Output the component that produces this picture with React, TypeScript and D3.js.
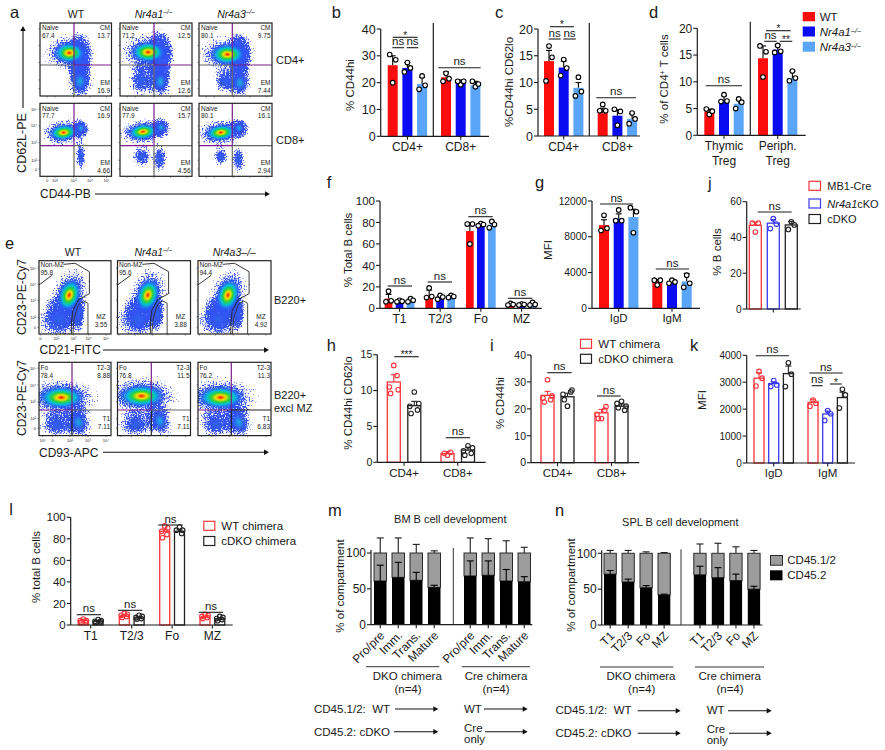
import React from "react";
import * as d3 from "d3";

const FONT = "'Liberation Sans', Arial, sans-serif";
const RED = "#fb0d0d", BLUE = "#0b0bf2", LIGHT = "#5aa5f7", DARK = "#1c1c1c";
const OUT_RED = "#f8353a", OUT_BLUE = "#3a3af5", OUT_BLACK = "#222222";

// ---------- bar chart data ----------
const cd48 = ["CD4+", "CD8+"];
const bTicks = [0, 10, 20, 30, 40];
const bMeans = [[26.5, 25.5, 19.5], [22, 20, 19]];
const bTops = [[30, 27.5, 22], [24, 21, 20.5]];
const bPoints = [
  [[20, 28.5, 30.5], [27.5, 25.5, 24], [22.5, 19, 17.5]],
  [[23.5, 21.5, 20.5], [19.2, 20.5, 20.5], [18.5, 19.5, 20.5]],
];
const cTicks = [0, 5, 10, 15, 20];
const cMeans = [[14, 12.8, 9], [4.25, 3.8, 3.2]];
const cTops = [[16, 14, 10], [5.2, 4.9, 4.2]];
const cPoints = [
  [[16.8, 14.7, 10.3], [14.3, 12.7, 11.3], [11, 8.3, 7.5]],
  [[5.9, 4.7, 4.7], [2, 4.6, 5], [4.3, 3.2, 2.3]],
];
const dCats = [["Thymic", "Treg"], ["Periph.", "Treg"]];
const dTicks = [0, 5, 10, 15, 20];
const dMeans = [[4.4, 6.6, 5.9], [14.4, 16, 10.7]];
const dTops = [[4.9, 7.4, 6.7], [16.7, 16.9, 12]];
const dPoints = [
  [[3.9, 4.5, 4.9], [7.6, 6.4, 6.3], [6.8, 6.2, 5]],
  [[10.9, 15.6, 16.7], [16.8, 15.7, 15.5], [12, 10.7, 10.2]],
];
const subsetCats = ["T1", "T2/3", "Fo", "MZ"];
const fTicks = [0, 20, 40, 60, 80, 100];
const fMeans = [[9, 6.5, 7], [12, 10, 11], [72, 78, 78], [4, 3.5, 4]];
const fTops = [[13, 7.5, 9], [17, 12, 12.5], [80, 79, 81], [4.8, 4, 5.5]];
const fPoints = [
  [[16, 7, 6], [7.5, 6.5, 6], [9, 7.5, 6]],
  [[19, 11, 10], [12, 10.5, 8.5], [12, 11, 10]],
  [[60, 78.5, 78.5], [79, 78, 77], [81, 78, 75]],
  [[4.5, 3.5, 3], [4, 3.5, 3], [5.5, 3.5, 3]],
];
const igCats = ["IgD", "IgM"];
const gTicks = [0, 4000, 8000, 12000];
const gMeans = [[9300, 10000, 10200], [3000, 3000, 3000]];
const gTops = [[9900, 10560, 11080], [3200, 3200, 3900]];
const gPoints = [
  [[10400, 8950, 8700], [11000, 9800, 9800], [8450, 10800, 11250]],
  [[2600, 3150, 3150], [3150, 2950, 2800], [3700, 2800, 2350]],
];
const jCats = [""];
const jTicks = [0, 20, 40, 60];
const jMeans = [[46.8, 48, 47]];
const jTops = [[48.6, 50, 49]];
const jPoints = [[[43, 48, 48], [50.5, 47.5, 45], [48.8, 47, 44.5]]];
const hTicks = [0, 5, 10, 15];
const hMeans = [[11.2, 7.9], [1.2, 1.7]];
const hTops = [[12.2, 8.5], [1.5, 2.1]];
const hPoints = [
  [[13.5, 10.1, 10.5, 12.1, 9.6], [9.8, 8.2, 7.8, 7.3, 6.8]],
  [[1, 1.4, 1.25], [2.3, 2, 1.6, 1.25, 1]],
];
const iTicks = [0, 10, 20, 30, 40];
const iMeans = [[25, 24.5], [18.5, 21]];
const iTops = [[26.5, 25.8], [19.8, 21.8]];
const iPoints = [
  [[30.8, 24.8, 24, 23.4, 22.5], [21, 27, 25.4, 26.3, 23.4]],
  [[16.4, 20.8, 18, 19.5, 16.4], [22.8, 21, 22, 19.5, 20.4]],
];
const kTicks = [0, 1000, 2000, 3000, 4000];
const kMeans = [[3150, 2950, 3320], [2250, 1820, 2430]];
const kTops = [[3350, 3020, 3600], [2370, 1930, 2630]];
const kPoints = [
  [[3400, 3150, 2860], [3060, 2900, 2840], [3720, 3300, 2840]],
  [[2340, 2220, 2110], [1950, 1830, 1580], [2740, 2530, 2040]],
];
const lTicks = [0, 20, 40, 60, 80, 100];
const lMeans = [[4, 3.5], [8, 6.5], [87, 87], [7, 5.5]];
const lTops = [[5, 4.2], [9, 7.5], [89, 88.5], [8, 6.5]];
const lPoints = [
  [[5.5, 4, 4, 3, 2.5], [5, 4, 3.5, 3, 2.5]],
  [[11, 10, 9, 8, 7], [9, 8, 7, 6, 5.5]],
  [[92, 90, 87, 84, 81], [91, 88, 88, 85]],
  [[10, 9, 8, 7, 6], [8, 7, 6, 5, 4]],
];

// ---------- stacked chart data ----------
const stackTicks = [0, 50, 100];
const mCats = ["Pro/pre", "Imm.", "Trans.", "Mature"];
const mBlack = [[61, 66, 62, 52], [68, 69, 61, 60]];
const mBlackTop = [[83, 87, 73, 55], [89, 89, 77, 67]];
const mTotalTop = [[121, 121, 112, 103], [121, 120, 117, 108]];
const nBlack = [[71, 60, 52, 42], [70, 66, 62, 50]];
const nBlackTop = [[76, 64, 55, 43], [82, 80, 71, 54]];
const nTotalTop = [[104, 104, 102, 101], [113, 114, 109, 104]];

// ---------- flow data (axis fractions; kind, cx, cy, rx, ry, angle) ----------
type Blob = [string, number, number, number, number, number];
const aRow1: Blob[][] = [
  [["cool", .56, .5, .1, .22, 0], ["hot", .41, .41, .24, .16, 0], ["mid", .56, .8, .12, .16, 0]],
  [["cool", .56, .45, .1, .25, 0], ["hot", .39, .4, .26, .16, 0], ["cool", .3, .78, .12, .14, 0], ["mid", .56, .8, .11, .15, 0]],
  [["cool", .56, .45, .09, .22, 0], ["hot", .39, .43, .26, .16, 0], ["cool", .35, .8, .1, .1, 0], ["mid", .56, .82, .11, .14, 0]],
];
const aRow2: Blob[][] = [
  [["hot", .33, .4, .22, .12, -6], ["mid", .57, .34, .07, .08, 0], ["cool", .57, .72, .05, .13, 0]],
  [["hot", .32, .39, .23, .12, -6], ["mid", .57, .33, .08, .08, 0], ["cool", .55, .76, .07, .12, 0], ["cool", .3, .73, .09, .09, 0]],
  [["hot", .3, .4, .23, .12, -6], ["mid", .55, .34, .08, .08, 0], ["cool", .54, .77, .06, .12, 0], ["cool", .3, .73, .07, .08, 0]],
];
const eRow1: Blob[][] = [
  [["cool", .28, .8, .2, .17, 0], ["cool", .55, .72, .06, .14, 0], ["hot", .42, .47, .17, .25, 18]],
  [["cool", .28, .8, .2, .17, 0], ["cool", .55, .72, .06, .14, 0], ["hot", .415, .47, .17, .25, 18]],
  [["cool", .28, .8, .2, .17, 0], ["cool", .55, .72, .06, .14, 0], ["hot", .41, .47, .17, .25, 18]],
];
const eRow2: Blob[][] = [
  [["cool", .25, .85, .16, .11, 0], ["mid", .55, .82, .12, .15, -18], ["hot", .31, .48, .34, .17, 0]],
  [["cool", .25, .85, .16, .11, 0], ["mid", .58, .8, .11, .15, -18], ["hot", .33, .46, .34, .17, 0]],
  [["cool", .25, .85, .16, .11, 0], ["mid", .56, .82, .12, .15, -18], ["hot", .31, .48, .34, .17, 0]],
];
const aLabels = [
  [["67.4", "13.7", "16.9"], ["71.2", "12.5", "12.6"], ["80.1", "9.75", "7.44"]],
  [["77.7", "16.9", "4.66"], ["77.9", "15.7", "4.56"], ["80.1", "16.1", "2.94"]],
];
const eTop = [["95.8", "3.55"], ["95.6", "3.88"], ["94.4", "4.92"]];
const eBottom = [["78.4", "8.88", "7.11"], ["76.8", "11.5", "7.11"], ["76.2", "11.3", "6.83"]];
const flowTickLabels = ["0", "10²", "10³", "10⁴", "10⁵"];
const gateUpper: [number, number][] = [[.34, .05], [.5, .035], [.7, .15], [.7, .45], [.55, .53], [.47, .68], [.45, .85], [.45, 1]];
const gateUpperLeft: [number, number][] = [[0, .33], [.18, .2]];
const gateLower: [number, number][] = [[.47, 1], [.49, .78], [.55, .6], [.62, .55], [.68, .58], [.68, 1]];

const T = (p: any) => <text fontFamily={FONT} fill="#1a1a1a" {...p} />;

function Sig({ x1, x2, y, label }: { x1: number; x2: number; y: number; label: string }) {
  const star = label.includes("*");
  return (
    <g>
      <line x1={x1} x2={x2} y1={y} y2={y} stroke={DARK} strokeWidth={1.1} />
      <T x={(x1 + x2) / 2} y={star ? y + 1.5 : y - 2.5} fontSize={star ? 10 : 11.5} textAnchor="middle">{label}</T>
    </g>
  );
}

function BarPanel(p: any) {
  const { left, right, y0, yTop, yMax, ticks, cats, means, tops, points, starts, step, barW, colors, outline,
    title, titleX, titleY, tickFont = 11, catFont = 11.5, jitter = 3, divider, catY } = p;
  const y = d3.scaleLinear().domain([0, yMax]).range([y0, yTop]);
  const jit = (n: number, i: number) => (n >= 4 ? [0, 1.4, -1.4, 1, -1][i] * jitter : [0, 1, -1][i] * jitter);
  return (
    <g>
      {means.map((gm: number[], g: number) => {
        const x = d3.scaleLinear().domain([0, 1]).range([starts[g], starts[g] + step]);
        const cx = (x(0) + x(gm.length - 1) + barW) / 2;
        const lines = Array.isArray(cats[g]) ? cats[g] : [cats[g]];
        return (
          <g key={g}>
            {gm.map((m, i) => {
              const col = colors[i];
              const mid = x(i) + barW / 2;
              return (
                <g key={i}>
                  <line x1={mid} x2={mid} y1={y(m)} y2={y(tops[g][i])} stroke={outline ? col : "#000"} strokeWidth={1.1} />
                  <line x1={mid - 3} x2={mid + 3} y1={y(tops[g][i])} y2={y(tops[g][i])} stroke={outline ? col : "#000"} strokeWidth={1.1} />
                  {outline ? (
                    <rect x={x(i)} y={y(m)} width={barW} height={y0 - y(m)} fill="none" stroke={col} strokeWidth={1.3} />
                  ) : (
                    <rect x={x(i)} y={y(m)} width={barW} height={y0 - y(m)} fill={col} />
                  )}
                  {points[g][i].map((v: number, k: number) => (
                    <circle key={k} cx={mid + jit(points[g][i].length, k)} cy={y(v)} r={2.3}
                      fill={outline ? "none" : "#fff"} stroke={outline ? col : "#000"} strokeWidth={1.1} />
                  ))}
                </g>
              );
            })}
            <line x1={cx} x2={cx} y1={y0} y2={y0 + 3.5} stroke={DARK} strokeWidth={1.1} />
            {lines.map((t: string, k: number) => t && (
              <T key={k} x={cx} y={catY + k * 15} fontSize={catFont} textAnchor="middle">{t}</T>
            ))}
          </g>
        );
      })}
      {divider && <line x1={divider[0]} x2={divider[0]} y1={divider[1]} y2={y0} stroke={DARK} strokeWidth={1.2} />}
      <line x1={left} x2={right} y1={y0} y2={y0} stroke={DARK} strokeWidth={1.2} />
      <line x1={left} x2={left} y1={yTop} y2={y0} stroke={DARK} strokeWidth={1.2} />
      {ticks.map((t: number) => (
        <g key={t}>
          <line x1={left - 4} x2={left} y1={y(t)} y2={y(t)} stroke={DARK} strokeWidth={1.1} />
          <T x={left - 5} y={y(t)} dy=".36em" fontSize={tickFont} textAnchor="end">{t}</T>
        </g>
      ))}
      <T transform={`translate(${titleX},${titleY}) rotate(-90)`} fontSize={11.5} textAnchor="middle">{title}</T>
    </g>
  );
}

function StackPanel(p: any) {
  const { left, right, y0, yTop, cats, black, blackTop, totalTop, starts, step, barW, divider, titleX, titleY } = p;
  const y = d3.scaleLinear().domain([0, 100]).range([y0, yTop]);
  return (
    <g>
      {black.map((gv: number[], g: number) => {
        const x = d3.scaleLinear().domain([0, 1]).range([starts[g], starts[g] + step]);
        return gv.map((v, i) => {
          const mid = x(i) + barW / 2;
          return (
            <g key={`${g}-${i}`}>
              <line x1={mid} x2={mid} y1={y(100)} y2={y(totalTop[g][i])} stroke={DARK} strokeWidth={1.1} />
              <line x1={mid - 3.5} x2={mid + 3.5} y1={y(totalTop[g][i])} y2={y(totalTop[g][i])} stroke={DARK} strokeWidth={1.1} />
              <rect x={x(i)} y={y(100)} width={barW} height={y(v) - y(100)} fill="#9c9c9c" stroke="#2a2a2a" strokeWidth={1} />
              <line x1={mid} x2={mid} y1={y(v)} y2={y(blackTop[g][i])} stroke="#000" strokeWidth={1.1} />
              <line x1={mid - 3.5} x2={mid + 3.5} y1={y(blackTop[g][i])} y2={y(blackTop[g][i])} stroke="#000" strokeWidth={1.1} />
              <rect x={x(i)} y={y(v)} width={barW} height={y0 - y(v)} fill="#000" />
              <line x1={mid} x2={mid} y1={y0} y2={y0 + 3.5} stroke={DARK} strokeWidth={1.1} />
              <T transform={`translate(${mid + 2},${y0 + 8.5}) rotate(-45)`} fontSize={12} textAnchor="end" dy=".35em">{cats[i]}</T>
            </g>
          );
        });
      })}
      <line x1={divider[0]} x2={divider[0]} y1={divider[1]} y2={y0} stroke="#333" strokeWidth={1} />
      <line x1={left} x2={right} y1={y0} y2={y0} stroke={DARK} strokeWidth={1.2} />
      <line x1={left} x2={left} y1={y(100) - 3} y2={y0} stroke={DARK} strokeWidth={1.2} />
      {stackTicks.map((t) => (
        <g key={t}>
          <line x1={left - 4} x2={left} y1={y(t)} y2={y(t)} stroke={DARK} strokeWidth={1.1} />
          <T x={left - 5} y={y(t)} dy=".36em" fontSize={12} textAnchor="end">{t}</T>
        </g>
      ))}
      <T transform={`translate(${titleX},${titleY}) rotate(-90)`} fontSize={11.5} textAnchor="middle">% of compartment</T>
    </g>
  );
}

function Arrow({ x1, x2, y }: { x1: number; x2: number; y: number }) {
  return (
    <g>
      <line x1={x1} x2={x2 - 3} y1={y} y2={y} stroke="#111" strokeWidth={1.1} />
      <path d={`M${x2},${y} L${x2 - 5},${y - 2.7} L${x2 - 5},${y + 2.7} Z`} fill="#111" />
    </g>
  );
}

function VArrow({ x, y1, y2 }: { x: number; y1: number; y2: number }) {
  return (
    <g>
      <line x1={x} x2={x} y1={y1} y2={y2 + 3} stroke="#111" strokeWidth={1.1} />
      <path d={`M${x},${y2} L${x - 2.7},${y2 + 5} L${x + 2.7},${y2 + 5} Z`} fill="#111" />
    </g>
  );
}

function Flow(p: any) {
  const { id, x, y, w, h, blobs, children, xLabels, yLabels, xTickFracs, yTickFracs } = p;
  const sx = d3.scaleLinear().domain([0, 1]).range([x, x + w]);
  const sy = d3.scaleLinear().domain([0, 1]).range([y, y + h]);
  return (
    <g>
      <clipPath id={id}><rect x={x} y={y} width={w} height={h} /></clipPath>
      <g clipPath={`url(#${id})`}>
        <g filter="url(#soft)">
          <g filter="url(#speckle)">
            {blobs.map((b: Blob, i: number) => (
              <ellipse key={i} cx={0} cy={0} rx={(sx(b[3]) - sx(0)) * 1.75} ry={(sy(b[4]) - sy(0)) * 1.85} fill="url(#halo)"
                transform={`translate(${sx(b[1])},${sy(b[2])}) rotate(${b[5]})`} />
            ))}
          </g>
          {blobs.map((b: Blob, i: number) => (
            <ellipse key={i} cx={0} cy={0} rx={sx(b[3]) - sx(0)} ry={sy(b[4]) - sy(0)} fill={`url(#${b[0]})`}
              transform={`translate(${sx(b[1])},${sy(b[2])}) rotate(${b[5]})`} />
          ))}
        </g>
        {children && children(sx, sy)}
      </g>
      <rect x={x} y={y} width={w} height={h} fill="none" stroke="#222" strokeWidth={1.2} />
      {(xTickFracs || [.12, .3, .5, .72, .94]).map((f: number, i: number) => (
        <g key={i}>
          <line x1={sx(f)} x2={sx(f)} y1={y + h} y2={y + h + 1.5} stroke="#444" strokeWidth={.7} />
          {xLabels && <T x={sx(f)} y={y + h + 6} fontSize={4} textAnchor="middle">{flowTickLabels[i]}</T>}
        </g>
      ))}
      {(yTickFracs || [.08, .31, .54, .78, .92]).map((f: number, i: number) => (
        <g key={i}>
          <line x1={x - 1.5} x2={x} y1={sy(f)} y2={sy(f)} stroke="#444" strokeWidth={.7} />
          {yLabels && <T x={x - 3} y={sy(f) + 1.5} fontSize={4} textAnchor="end">{flowTickLabels[4 - i]}</T>}
        </g>
      ))}
    </g>
  );
}

const Small = (p: any) => <T fontSize={6.5} {...p} />;
const PURPLE = "#7a1f88", GREY = "#666";

const aCols = [[40, 71.5], [120, 72], [199, 73]];
const eCols = [[39, 72], [117.5, 73], [198, 73]];

function Sup({ base, italic = true }: { base: string; italic?: boolean }) {
  return (
    <>
      <tspan fontStyle={italic ? "italic" : "normal"}>{base}</tspan>
      <tspan fontStyle="italic" dy={-3.5} fontSize="0.62em">–/–</tspan>
    </>
  );
}

function Panels() {
  return (
    <g>
      {/* ---- panel a ---- */}
      {[0, 1].map((r) => aCols.map(([x, w], c) => {
        const y = r === 0 ? 23 : 103.3;
        const h = 73;
        const labs = aLabels[r][c];
        const vx = [74, 154, 232.3][c];
        const hy = r === 0 ? 65 : 145.7;
        return (
          <Flow key={`a${r}${c}`} id={`a${r}${c}`} x={x} y={y} w={w} h={h} blobs={(r === 0 ? aRow1 : aRow2)[c]}
            xLabels={r === 1 && c === 0} yLabels={r === 1 && c === 0} xTickFracs={[.1, .21, .47, .7, .93]} yTickFracs={[.08, .31, .54, .78, .9]}>
            {() => (
              <g>
                <line x1={vx} x2={vx} y1={y} y2={hy} stroke={PURPLE} strokeWidth={1.2} />
                <line x1={vx} x2={vx} y1={hy} y2={y + h} stroke={GREY} strokeWidth={1.2} />
                <line x1={x} x2={vx} y1={hy} y2={hy} stroke={r === 0 ? GREY : PURPLE} strokeWidth={1.2} />
                <line x1={vx} x2={x + w} y1={hy} y2={hy} stroke={r === 0 ? PURPLE : GREY} strokeWidth={1.2} />
                <Small x={x + 2} y={y + 7.3}>Naive</Small>
                <Small x={x + 2} y={y + 14.7}>{labs[0]}</Small>
                <Small x={x + w - 1.5} y={y + 7.3} textAnchor="end">CM</Small>
                <Small x={x + w - 1.5} y={y + 14.7} textAnchor="end">{labs[1]}</Small>
                <Small x={x + w - 1.5} y={y + 62} textAnchor="end">EM</Small>
                <Small x={x + w - 1.5} y={y + 69.7} textAnchor="end">{labs[2]}</Small>
              </g>
            )}
          </Flow>
        );
      }))}
      <T x={76} y={17.5} fontSize={10.5} textAnchor="middle">WT</T>
      <T x={153.5} y={17.5} fontSize={10.5} textAnchor="middle"><Sup base="Nr4a1" /></T>
      <T x={236} y={17.5} fontSize={10.5} textAnchor="middle"><Sup base="Nr4a3" /></T>
      <T x={276} y={64} fontSize={11}>CD4+</T>
      <T x={276} y={144} fontSize={11}>CD8+</T>
      <T transform="translate(25.5,143) rotate(-90)" fontSize={12.5} textAnchor="middle">CD62L-PE</T>
      <VArrow x={23} y1={108} y2={26} />
      <T x={40} y={198} fontSize={12}>CD44-PB</T>
      <Arrow x1={95} x2={270} y={194} />

      {/* ---- panel e ---- */}
      {eCols.map(([x, w], c) => {
        const y = 260.7, h = 73.3;
        return (
          <Flow key={`e0${c}`} id={`e0${c}`} x={x} y={y} w={w} h={h} blobs={eRow1[c]} xLabels={c === 0} yLabels={c === 0}
            xTickFracs={[.02, .24, .48, .69, .93]} yTickFracs={[.1, .32, .54, .77, .91]}>
            {(sx: any, sy: any) => {
              const ln = d3.line().x((d: any) => sx(d[0])).y((d: any) => sy(d[1]));
              return (
                <g>
                  <path d={ln(gateUpperLeft)!} fill="none" stroke="#222" strokeWidth={.9} />
                  <path d={ln(gateUpper)!} fill="none" stroke="#222" strokeWidth={.9} />
                  <path d={ln(gateLower)!} fill="none" stroke="#333" strokeWidth={.9} />
                  <Small x={x + 1.5} y={267.3}>Non-MZ</Small>
                  <Small x={x + 1.5} y={275}>{eTop[c][0]}</Small>
                  <Small x={x + w - 10} y={319.3} textAnchor="middle">MZ</Small>
                  <Small x={x + w - 10} y={326.7} textAnchor="middle">{eTop[c][1]}</Small>
                </g>
              );
            }}
          </Flow>
        );
      })}
      {eCols.map(([x, w], c) => {
        const y = 362.3, h = 73.3;
        const vx = [72, 151.3, 231.3][c], hy = 410;
        return (
          <Flow key={`e1${c}`} id={`e1${c}`} x={x} y={y} w={w} h={h} blobs={eRow2[c]} xLabels={c === 0} yLabels={c === 0}
            xTickFracs={[.19, .43, .68, .93, .05]} yTickFracs={[.08, .31, .54, .77, .9]}>
            {() => (
              <g>
                <line x1={vx} x2={vx} y1={y} y2={hy} stroke={PURPLE} strokeWidth={1.2} />
                <line x1={vx} x2={vx} y1={hy} y2={y + h} stroke="#222" strokeWidth={1.2} />
                <line x1={x} x2={vx} y1={hy} y2={hy} stroke={PURPLE} strokeWidth={1.2} />
                <line x1={vx} x2={x + w} y1={hy} y2={hy} stroke={c === 2 ? "#222" : GREY} strokeWidth={1.2} />
                <Small x={x + 1.5} y={370.3}>Fo</Small>
                <Small x={x + 1.5} y={377.7}>{eBottom[c][0]}</Small>
                <Small x={x + w - 1} y={370.3} textAnchor="end">T2-3</Small>
                <Small x={x + w - 1} y={377.7} textAnchor="end">{eBottom[c][1]}</Small>
                <Small x={x + w - 1} y={421.3} textAnchor="end">T1</Small>
                <Small x={x + w - 1} y={429.3} textAnchor="end">{eBottom[c][2]}</Small>
              </g>
            )}
          </Flow>
        );
      })}
      <T x={73} y={255.7} fontSize={10.5} textAnchor="middle">WT</T>
      <T x={153.3} y={255.7} fontSize={10.5} textAnchor="middle"><Sup base="Nr4a1" /></T>
      <T x={234.3} y={255.7} fontSize={10.5} textAnchor="middle" fontStyle="italic">Nr4a3–/–</T>
      <T x={274} y={304} fontSize={11}>B220+</T>
      <T x={274} y={398.5} fontSize={11}>B220+</T>
      <T x={274} y={412} fontSize={11}>excl MZ</T>
      <T transform="translate(25.5,297) rotate(-90)" fontSize={12} textAnchor="middle">CD23-PE-Cy7</T>
      <T transform="translate(25.5,398) rotate(-90)" fontSize={12} textAnchor="middle">CD23-PE-Cy7</T>
      <T x={39.5} y={354} fontSize={12}>CD21-FITC</T>
      <Arrow x1={103} x2={269} y={350} />
      <T x={39} y={456.5} fontSize={12}>CD93-APC</T>
      <Arrow x1={103} x2={269} y={452.3} />

      {/* ---- panel b ---- */}
      <BarPanel left={380.7} right={489} y0={136.3} yTop={29} yMax={40} ticks={bTicks} cats={cd48} means={bMeans} tops={bTops} points={bPoints}
        starts={[387.7, 441]} step={14.7} barW={10} colors={[RED, BLUE, LIGHT]} title="% CD44hi" titleX={354} titleY={85} tickFont={12.5} catFont={12} catY={150.5} divider={[433.3, 23]} />
      <Sig x1={392.7} x2={417.7} y={37.3} label="*" />
      <Sig x1={392.3} x2={404} y={47.7} label="ns" />
      <Sig x1={406.7} x2={418.3} y={47.7} label="ns" />
      <Sig x1={438.3} x2={480.7} y={67.7} label="ns" />

      {/* ---- panel c ---- */}
      <BarPanel left={538} right={640} y0={136} yTop={29} yMax={20} ticks={cTicks} cats={cd48} means={cMeans} tops={cTops} points={cPoints}
        starts={[544, 597.7]} step={14.7} barW={10} colors={[RED, BLUE, LIGHT]} title="%CD44hi  CD62lo" titleX={513} titleY={82} tickFont={12.5} catFont={12} catY={150.5} divider={[589.3, 23]} />
      <Sig x1={550} x2={574} y={26.7} label="*" />
      <Sig x1={548.7} x2={560.7} y={39} label="ns" />
      <Sig x1={563.3} x2={575.7} y={39} label="ns" />
      <Sig x1={596.3} x2={636} y={97.7} label="ns" />

      {/* ---- panel d ---- */}
      <BarPanel left={697.3} right={805.7} y0={135.3} yTop={28.3} yMax={20} ticks={dTicks} cats={dCats} means={dMeans} tops={dTops} points={dPoints}
        starts={[704.3, 758]} step={14.7} barW={10} colors={[RED, BLUE, LIGHT]} title="" titleX={668} titleY={79} tickFont={12} catFont={12} catY={150} divider={[750.3, 21.7]} />
      <T transform="translate(668,79) rotate(-90)" fontSize={11.5} textAnchor="middle">% of CD4<tspan dy={-3.5} fontSize={7}>+</tspan><tspan dy={3.5}> T cells</tspan></T>
      <Sig x1={705.7} x2={742} y={85.7} label="ns" />
      <Sig x1={766} x2={790.7} y={30.7} label="*" />
      <Sig x1={764.3} x2={776.7} y={41.3} label="ns" />
      <Sig x1={779.7} x2={792.3} y={41.3} label="**" />

      {/* legend 1 */}
      <rect x={802.7} y={12} width={12.3} height={9.3} fill={RED} />
      <rect x={802.7} y={26.5} width={12.3} height={10} fill={BLUE} />
      <rect x={802.7} y={41.7} width={12.3} height={10} fill={LIGHT} />
      <T x={819.7} y={20.5} fontSize={11.5}>WT</T>
      <T x={819.7} y={36} fontSize={11.5}><Sup base="Nr4a1" /></T>
      <T x={819.7} y={51} fontSize={11.5}><Sup base="Nr4a3" /></T>

      {/* ---- panel f ---- */}
      <BarPanel left={380} right={541.7} y0={308.3} yTop={201} yMax={100} ticks={fTicks} cats={subsetCats} means={fMeans} tops={fTops} points={fPoints}
        starts={[384.7, 425.3, 466, 506.7]} step={11} barW={7.7} colors={[RED, BLUE, LIGHT]} title="% Total B cells" titleX={352} titleY={250} tickFont={11.5} catFont={12} catY={323} jitter={2.6} />
      <Sig x1={387.7} x2={412} y={286} label="ns" />
      <Sig x1={427.7} x2={452} y={282} label="ns" />
      <Sig x1={468.3} x2={492.7} y={216.7} label="ns" />
      <Sig x1={508} x2={532.3} y={298.3} label="ns" />

      {/* ---- panel g ---- */}
      <BarPanel left={592} right={700} y0={308.3} yTop={201} yMax={12000} ticks={gTicks} cats={igCats} means={gMeans} tops={gTops} points={gPoints}
        starts={[599, 652.3]} step={14.7} barW={10} colors={[RED, BLUE, LIGHT]} title="MFI" titleX={552} titleY={250} tickFont={10.2} catFont={11.5} catY={321.5} />
      <Sig x1={600} x2={633} y={204} label="ns" />
      <Sig x1={655.7} x2={689} y={269} label="ns" />

      {/* ---- panel j ---- */}
      <BarPanel left={746.7} right={800.7} y0={309} yTop={201.7} yMax={60} ticks={jTicks} cats={jCats} means={jMeans} tops={jTops} points={jPoints}
        starts={[749.3]} step={18} barW={12} colors={[OUT_RED, OUT_BLUE, OUT_BLACK]} outline title="% B cells" titleX={720.5} titleY={252} tickFont={10.2} catY={323} />
      <Sig x1={757.7} x2={791.7} y={212} label="ns" />

      {/* legend 2 */}
      {[OUT_RED, OUT_BLUE, OUT_BLACK].map((c, i) => (
        <rect key={c} x={809} y={[181.3, 199, 214.5][i]} width={11.5} height={9} fill="none" stroke={c} strokeWidth={1.2} />
      ))}
      <T x={827.3} y={189.5} fontSize={11}>MB1-Cre</T>
      <T x={827.3} y={207.5} fontSize={11}><tspan fontStyle="italic">Nr4a1</tspan>cKO</T>
      <T x={827.3} y={223.3} fontSize={11}>cDKO</T>

      {/* ---- panel h ---- */}
      <BarPanel left={377.3} right={485.7} y0={462.3} yTop={354.7} yMax={15} ticks={hTicks} cats={cd48} means={hMeans} tops={hTops} points={hPoints}
        starts={[387.3, 441]} step={20.5} barW={13} colors={[OUT_RED, OUT_BLACK]} outline title="% CD44hi CD62lo" titleX={352} titleY={403} tickFont={10.5} catY={476.5} jitter={3.2} />
      <Sig x1={394.3} x2={418.7} y={356.7} label="***" />
      <Sig x1={445.7} x2={470} y={437.7} label="ns" />

      {/* ---- panel i ---- */}
      <BarPanel left={531} right={639.3} y0={462.7} yTop={355} yMax={40} ticks={iTicks} cats={cd48} means={iMeans} tops={iTops} points={iPoints}
        starts={[541, 595]} step={20} barW={13} colors={[OUT_RED, OUT_BLACK]} outline title="% CD44hi" titleX={504} titleY={403} tickFont={10.5} catY={476.5} jitter={3.2} />
      <Sig x1={547.3} x2={571.7} y={372.7} label="ns" />
      <Sig x1={597} x2={620.7} y={396} label="ns" />
      <rect x={580.5} y={339.3} width={11} height={9} fill="none" stroke={OUT_RED} strokeWidth={1.2} />
      <rect x={580.5} y={354.3} width={11} height={9} fill="none" stroke={OUT_BLACK} strokeWidth={1.2} />
      <T x={598.3} y={348} fontSize={11.5}>WT chimera</T>
      <T x={598.3} y={363.3} fontSize={11.5}>cDKO chimera</T>

      {/* ---- panel k ---- */}
      <BarPanel left={746.7} right={855} y0={463} yTop={355.3} yMax={4000} ticks={kTicks} cats={igCats} means={kMeans} tops={kTops} points={kPoints}
        starts={[754, 808]} step={14.7} barW={10} colors={[OUT_RED, OUT_BLUE, OUT_BLACK]} outline title="MFI" titleX={706} titleY={400} tickFont={10} catY={476.5} />
      <Sig x1={755.7} x2={789} y={355.7} label="ns" />
      <Sig x1={809.3} x2={842.7} y={373} label="ns" />
      <Sig x1={811.7} x2={822.7} y={385.7} label="ns" />
      <Sig x1={830} x2={841.7} y={384} label="*" />

      {/* ---- panel l ---- */}
      <BarPanel left={70.7} right={232.7} y0={625} yTop={517.3} yMax={100} ticks={lTicks} cats={subsetCats} means={lMeans} tops={lTops} points={lPoints}
        starts={[78.3, 119.3, 159.7, 200]} step={14.8} barW={10} colors={[OUT_RED, OUT_BLACK]} outline title="% total B cells" titleX={40} titleY={567} tickFont={11.5} catFont={12} catY={639.5} jitter={2.2} />
      <Sig x1={76.7} x2={101} y={614.7} label="ns" />
      <Sig x1={118} x2={142.3} y={610.3} label="ns" />
      <Sig x1={158.3} x2={182.7} y={525} label="ns" />
      <Sig x1={199} x2={223} y={612.3} label="ns" />
      <rect x={203.8} y={521.3} width={11} height={9} fill="none" stroke={OUT_RED} strokeWidth={1.2} />
      <rect x={203.8} y={536.5} width={11} height={9} fill="none" stroke={OUT_BLACK} strokeWidth={1.2} />
      <T x={221.3} y={529.5} fontSize={11.5}>WT chimera</T>
      <T x={221.3} y={544.5} fontSize={11.5}>cDKO chimera</T>

      {/* ---- panel m ---- */}
      <StackPanel left={371} right={532.3} y0={624.7} yTop={553} cats={mCats} black={mBlack} blackTop={mBlackTop} totalTop={mTotalTop}
        starts={[374, 464]} step={18} barW={12.5} divider={[453.3, 548]} titleX={344} titleY={586} />
      <T x={450.3} y={522.7} fontSize={11} textAnchor="middle">BM B cell development</T>
      <line x1={366} x2={439.3} y1={666.7} y2={666.7} stroke="#333" strokeWidth={1} />
      <line x1={461.7} x2={530} y1={666.7} y2={666.7} stroke="#333" strokeWidth={1} />
      <T x={407.3} y={679.5} fontSize={11.5} textAnchor="middle">DKO chimera</T>
      <T x={408} y={692.5} fontSize={11.5} textAnchor="middle">(n=4)</T>
      <T x={496} y={679.5} fontSize={11.5} textAnchor="middle">Cre chimera</T>
      <T x={496} y={692.5} fontSize={11.5} textAnchor="middle">(n=4)</T>
      <T x={314} y={713} fontSize={11.5} xmlSpace="preserve">CD45.1/2:  WT</T>
      <T x={314} y={736} fontSize={11.5}>CD45.2: cDKO</T>
      <Arrow x1={395} x2={438.3} y={709} />
      <Arrow x1={394} x2={438.3} y={731.7} />
      <T x={464} y={713} fontSize={11.5}>WT</T>
      <Arrow x1={484} x2={527.7} y={709} />
      <T x={464} y={731.8} fontSize={11.5}>Cre</T>
      <T x={464} y={742.5} fontSize={11.5}>only</T>
      <Arrow x1={485} x2={527.7} y={731.7} />

      {/* ---- panel n ---- */}
      <StackPanel left={601.7} right={762.3} y0={625} yTop={553.3} cats={subsetCats} black={nBlack} blackTop={nBlackTop} totalTop={nTotalTop}
        starts={[604, 693.8]} step={18} barW={12.3} divider={[681, 549.3]} titleX={574.5} titleY={585} />
      <T x={680.3} y={525.7} fontSize={11} textAnchor="middle">SPL B cell development</T>
      <line x1={600} x2={673.3} y1={667} y2={667} stroke="#333" strokeWidth={1} />
      <line x1={695} x2={764} y1={667} y2={667} stroke="#333" strokeWidth={1} />
      <T x={641} y={680} fontSize={11.5} textAnchor="middle">DKO chimera</T>
      <T x={641.7} y={693} fontSize={11.5} textAnchor="middle">(n=4)</T>
      <T x={729.7} y={680} fontSize={11.5} textAnchor="middle">Cre chimera</T>
      <T x={730} y={693} fontSize={11.5} textAnchor="middle">(n=4)</T>
      <T x={555.5} y={714} fontSize={11.5} xmlSpace="preserve">CD45.1/2:  WT</T>
      <T x={555.5} y={736.7} fontSize={11.5}>CD45.2: cDKO</T>
      <Arrow x1={637.7} x2={680.7} y={710.7} />
      <Arrow x1={637.7} x2={680.7} y={733.3} />
      <T x={706.7} y={714} fontSize={11.5}>WT</T>
      <Arrow x1={728} x2={771.7} y={710.7} />
      <T x={706.7} y={732.6} fontSize={11.5}>Cre</T>
      <T x={706.7} y={743.6} fontSize={11.5}>only</T>
      <Arrow x1={729} x2={771.7} y={733.3} />
      <rect x={770.5} y={555.5} width={12} height={9.7} fill="#9c9c9c" stroke="#2a2a2a" strokeWidth={1} />
      <rect x={770} y={570.3} width={12.5} height={10} fill="#000" />
      <T x={787.3} y={564.3} fontSize={11.5}>CD45.1/2</T>
      <T x={787.3} y={579.3} fontSize={11.5}>CD45.2</T>

      {/* ---- panel letters ---- */}
      {([["a", 10, 18], ["b", 331.7, 18], ["c", 495, 18], ["d", 649, 18], ["e", 5, 249], ["f", 326.7, 188], ["g", 535, 188],
        ["j", 708, 189], ["h", 326.7, 351], ["i", 490, 351], ["k", 690, 351], ["l", 9.3, 515], ["m", 328, 515.5], ["n", 555, 515.5]] as [string, number, number][])
        .map(([t, x, y]) => <T key={t} x={x} y={y} fontSize={16.5}>{t}</T>)}
    </g>
  );
}

export default function App() {
  return (
    <svg width={885} height={750} viewBox="0 0 885 750" style={{ position: "absolute", left: 0, top: 0, background: "#fff" }}>
      <defs>
        <radialGradient id="hot">
          <stop offset="0" stopColor="#e81010" />
          <stop offset=".1" stopColor="#ff7a00" />
          <stop offset=".2" stopColor="#f0e000" />
          <stop offset=".38" stopColor="#28d040" />
          <stop offset=".56" stopColor="#00c4d8" stopOpacity={.95} />
          <stop offset=".74" stopColor="#2070f0" stopOpacity={.7} />
          <stop offset="1" stopColor="#2040ff" stopOpacity={0} />
        </radialGradient>
        <radialGradient id="mid">
          <stop offset="0" stopColor="#18b0e0" />
          <stop offset=".35" stopColor="#2a80ec" stopOpacity={.9} />
          <stop offset=".7" stopColor="#2a50f0" stopOpacity={.55} />
          <stop offset="1" stopColor="#2a40ff" stopOpacity={0} />
        </radialGradient>
        <radialGradient id="cool">
          <stop offset="0" stopColor="#2a70f0" stopOpacity={.6} />
          <stop offset=".6" stopColor="#3058f0" stopOpacity={.3} />
          <stop offset="1" stopColor="#3050ff" stopOpacity={0} />
        </radialGradient>
        <radialGradient id="halo">
          <stop offset="0" stopColor="#000" stopOpacity={1} />
          <stop offset=".5" stopColor="#000" stopOpacity={.62} />
          <stop offset="1" stopColor="#000" stopOpacity={.2} />
        </radialGradient>
        <filter id="speckle" x="-5%" y="-5%" width="110%" height="110%" colorInterpolationFilters="sRGB">
          <feTurbulence type="fractalNoise" baseFrequency=".75" numOctaves={2} seed={4} result="n" />
          <feComposite in="SourceAlpha" in2="n" operator="arithmetic" k1={0} k2={1} k3={1} k4={-1} result="m" />
          <feColorMatrix in="m" type="matrix" values="0 0 0 0 .2  0 0 0 0 .32  0 0 0 0 .95  0 0 0 6 0" />
        </filter>
        <filter id="soft" x="-5%" y="-5%" width="110%" height="110%">
          <feGaussianBlur stdDeviation=".35" />
        </filter>
      </defs>
      <rect width={885} height={750} fill="#fff" />
      <Panels />
    </svg>
  );
}
